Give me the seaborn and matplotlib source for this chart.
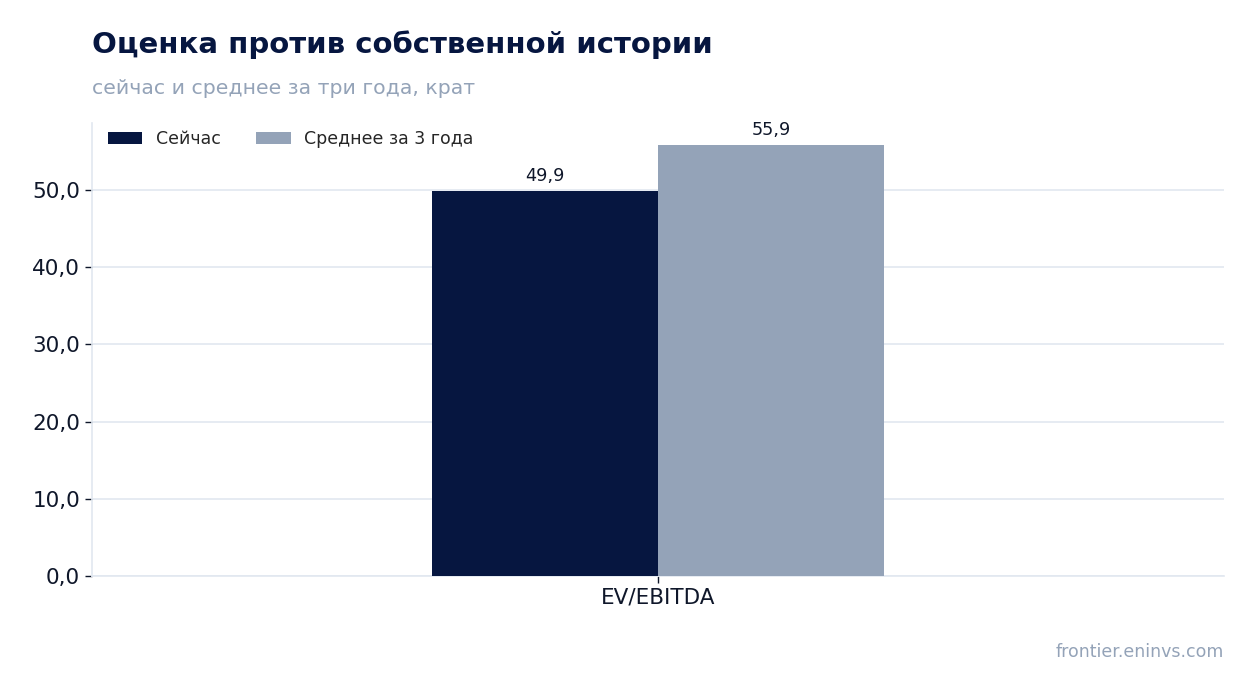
import matplotlib
matplotlib.use("Agg")
import matplotlib.pyplot as plt
import pandas as pd
import seaborn as sns
from matplotlib.ticker import FuncFormatter

# data
metrics = ["EV/EBITDA"]
series_names = ["Сейчас", "Среднее за 3 года"]
now_values = [49.9]
avg3y_values = [55.9]

DARK = "#061640"
GREY = "#94a3b8"
TEXT = "#0f172a"
LIGHT = "#e2e8f0"

df = pd.DataFrame({
    "metric": metrics * 2,
    "series": [series_names[0]] * len(metrics) + [series_names[1]] * len(metrics),
    "value": now_values + avg3y_values,
})

sns.set_style("white")
plt.rcParams["font.family"] = ["DejaVu Sans"]

fig = plt.figure(figsize=(12.54, 6.93), dpi=100)
ax = fig.add_axes([0.0734, 0.1688, 0.9027, 0.6537])

sns.barplot(data=df, x="metric", y="value", hue="series", hue_order=series_names,
            palette=[DARK, GREY], width=0.4, saturation=1, linewidth=0,
            ax=ax, zorder=3)

for cont in ax.containers:
    ax.bar_label(cont, labels=[f"{v:.1f}".replace(".", ",") for v in cont.datavalues],
                 padding=4, fontsize=12.7, color=TEXT)

ax.set_ylim(0, 58.7)
ax.set_xlim(-0.5, 0.5)
ax.set_yticks([0, 10, 20, 30, 40, 50])
ax.yaxis.set_major_formatter(FuncFormatter(lambda v, p: f"{v:.1f}".replace(".", ",")))
ax.set_xlabel("")
ax.set_ylabel("")
ax.grid(axis="y", color=LIGHT, linewidth=1.2, zorder=0)
ax.set_axisbelow(True)
for s in ["top", "right"]:
    ax.spines[s].set_visible(False)
for s in ["left", "bottom"]:
    ax.spines[s].set_color(LIGHT)
    ax.spines[s].set_linewidth(1.2)
ax.tick_params(axis="both", labelsize=15.5, labelcolor=TEXT, color=TEXT,
               length=5, width=1, left=True, bottom=True)

ax.legend(loc="upper left", ncol=2, frameon=False, fontsize=12.5,
          handlelength=2.0, handleheight=0.7, columnspacing=2.0,
          bbox_to_anchor=(0.003, 1.012), borderaxespad=0.3)

fig.text(0.0734, 0.924, "Оценка против собственной истории", fontsize=21,
         fontweight="bold", color=DARK, ha="left", va="baseline")
fig.text(0.0734, 0.865, "сейчас и среднее за три года, крат", fontsize=14.7,
         color=GREY, ha="left", va="baseline")
fig.text(0.9761, 0.052, "frontier.eninvs.com", fontsize=12.5, color=GREY,
         ha="right", va="baseline")

fig.savefig("out.png", dpi=100)
